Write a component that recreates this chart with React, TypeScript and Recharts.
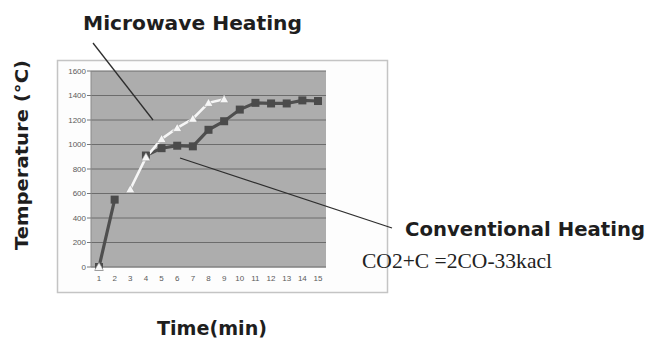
import { LineChart, Line, XAxis, YAxis, CartesianGrid } from 'recharts'

const TIMES = ['1', '2', '3', '4', '5', '6', '7', '8', '9', '10', '11', '12', '13', '14', '15']
const CONVENTIONAL = [0, 550, null, 910, 970, 990, 985, 1120, 1190, 1285, 1340, 1335, 1335, 1360, 1355]
const MICROWAVE = [0, null, 635, 895, 1045, 1135, 1210, 1340, 1370, null, null, null, null, null, null]
const Y_TICKS = [0, 200, 400, 600, 800, 1000, 1200, 1400, 1600]

const data = TIMES.map((t, i) => ({ t, conv: CONVENTIONAL[i], micro: MICROWAVE[i] }))

const W = 651
const H = 339
const BOLD = '"DejaVu Sans", sans-serif'
const TICK_FONT = '"Liberation Sans", Arial, sans-serif'

function SquareDot(props: any) {
  const { cx, cy, index } = props
  if (cx == null || cy == null) return <g key={`s${index}`} />
  return <rect key={`s${index}`} x={cx - 4} y={cy - 4} width={8} height={8} fill="#4b4b4b" />
}

function TriangleDot(props: any) {
  const { cx, cy, index } = props
  if (cx == null || cy == null) return <g key={`t${index}`} />
  return (
    <path
      key={`t${index}`}
      d={`M${cx},${cy - 4.5} L${cx + 4.5},${cy + 3.5} L${cx - 4.5},${cy + 3.5} Z`}
      fill="#f6f6f6"
      stroke="#9a9a9a"
      strokeWidth={0.6}
    />
  )
}

export default function App() {
  return (
    <div style={{ position: 'absolute', left: 0, top: 0, width: W, height: H, background: '#fff' }}>
      <svg width={W} height={H} style={{ position: 'absolute', left: 0, top: 0 }}>
        <rect x={57.5} y={60.5} width={330} height={232} fill="#fdfdfd" stroke="#c4c4c4" strokeWidth={1.5} />
      </svg>
      <div style={{ position: 'absolute', left: 0, top: 0 }}>
        <LineChart width={W} height={H} data={data} margin={{ top: 71, right: 325, bottom: 52, left: 61 }}>
          <CartesianGrid fill="#adadad" stroke="#6c6c6c" vertical={false} horizontalValues={Y_TICKS} />
          <XAxis
            dataKey="t"
            padding={{ left: 8, right: 8 }}
            tickLine={false}
            axisLine={{ stroke: '#8a8a8a' }}
            tick={{ fill: '#5a5a5a', fontSize: 8, fontFamily: TICK_FONT }}
            interval={0}
            height={20}
          />
          <YAxis
            domain={[0, 1600]}
            ticks={Y_TICKS}
            width={30}
            tickSize={4}
            tickMargin={1}
            tickLine={{ stroke: '#777' }}
            axisLine={{ stroke: '#8a8a8a' }}
            tick={{ fill: '#5a5a5a', fontSize: 8, fontFamily: TICK_FONT }}
            interval={0}
          />
          <Line
            dataKey="conv"
            type="linear"
            stroke="#4f4f4f"
            strokeWidth={3.2}
            dot={SquareDot}
            activeDot={false}
            isAnimationActive={false}
          />
          <Line
            dataKey="micro"
            type="linear"
            stroke="#f6f6f6"
            strokeWidth={2.6}
            dot={TriangleDot}
            activeDot={false}
            isAnimationActive={false}
          />
        </LineChart>
      </div>
      <svg width={W} height={H} style={{ position: 'absolute', left: 0, top: 0, pointerEvents: 'none' }}>
        <line x1={93} y1={43} x2={153} y2={120} stroke="#2e2e2e" strokeWidth={1.3} />
        <line x1={180} y1={158} x2={392} y2={228} stroke="#2e2e2e" strokeWidth={1.3} />
        <text x={83} y={30} fontFamily={BOLD} fontWeight="bold" fontSize={20} fill="#1e1e1e" textLength={219} lengthAdjust="spacingAndGlyphs">
          Microwave Heating
        </text>
        <text x={405} y={236} fontFamily={BOLD} fontWeight="bold" fontSize={20} fill="#1e1e1e" textLength={240} lengthAdjust="spacingAndGlyphs">
          Conventional Heating
        </text>
        <text x={362} y={268} fontFamily='"Liberation Serif", "Times New Roman", serif' fontSize={21} fill="#222" textLength={190} lengthAdjust="spacingAndGlyphs">
          CO2+C =2CO-33kacl
        </text>
        <text
          transform="translate(28,250) rotate(-90)"
          x={0}
          y={0}
          fontFamily={BOLD}
          fontWeight="bold"
          fontSize={17}
          fill="#1e1e1e"
          textLength={190}
          lengthAdjust="spacingAndGlyphs"
        >
          Temperature  (°C)
        </text>
        <text x={157} y={335} fontFamily={BOLD} fontWeight="bold" fontSize={19} fill="#1e1e1e" textLength={110} lengthAdjust="spacingAndGlyphs">
          Time(min)
        </text>
      </svg>
    </div>
  )
}
